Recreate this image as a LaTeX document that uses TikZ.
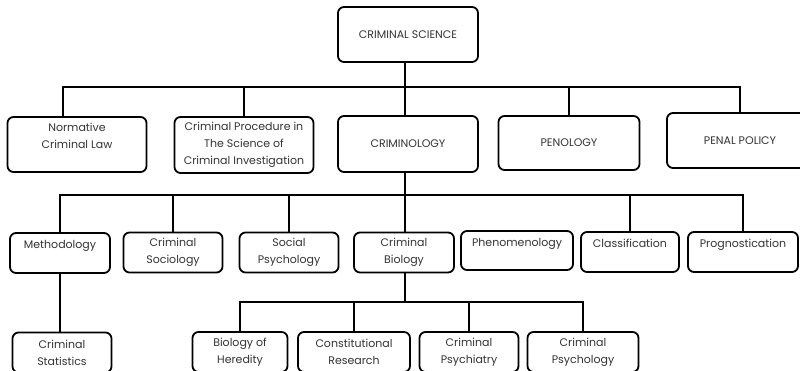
\documentclass[tikz,border=0pt]{standalone}
\usepackage{fontspec}
\setmainfont{Poppins}
\tikzset{
  box/.style={draw, rounded corners=6pt, line width=1.8pt, align=center,
    font=\fontsize{11}{17}\selectfont, text=black!80, inner sep=2pt},
  link/.style={line width=1.8pt}
}
\begin{document}
\begin{tikzpicture}[x=1pt,y=-1pt]
\clip (0,0) rectangle (800,371);

% Draw the root box
\node[box, minimum width=140, minimum height=55] (root) at (408,34.5) {CRIMINAL SCIENCE};

% Draw the first level
\node[box, minimum width=139, minimum height=55] (law) at (77,144.5) {Normative\\Criminal Law\\\mbox{}};
\node[box, minimum width=139, minimum height=56] (proc) at (244,145) {Criminal Procedure in\\The Science of\\Criminal Investigation};
\node[box, minimum width=140, minimum height=56] (crimlogy) at (408,144) {CRIMINOLOGY};
\node[box, minimum width=141, minimum height=54] (penology) at (569,143) {PENOLOGY};
\node[box, minimum width=146, minimum height=55] (policy) at (740,140.5) {PENAL POLICY};

% Draw the second level
\node[box, minimum width=100, minimum height=40] (meth) at (60,253) {Methodology\\\mbox{}};
\node[box, minimum width=99, minimum height=40] (socio) at (173,252.5) {Criminal\\Sociology};
\node[box, minimum width=99, minimum height=40] (socpsy) at (289,252.5) {Social\\Psychology};
\node[box, minimum width=100, minimum height=40] (biology) at (404,252.5) {Criminal\\Biology};
\node[box, minimum width=112, minimum height=39] (phen) at (517,250.5) {Phenomenology\\\mbox{}};
\node[box, minimum width=98, minimum height=40] (classif) at (630,252) {Classification\\\mbox{}};
\node[box, minimum width=110, minimum height=40] (prog) at (743,252) {Prognostication\\\mbox{}};

% Draw the third level
\node[box, minimum width=99, minimum height=40] (stats) at (62,352.5) {Criminal\\Statistics};
\node[box, minimum width=95, minimum height=40] (heredity) at (240,352) {Biology of\\Heredity};
\node[box, minimum width=112, minimum height=40] (constit) at (354,352) {Constitutional\\Research};
\node[box, minimum width=99, minimum height=40] (psychiatry) at (469,352) {Criminal\\Psychiatry};
\node[box, minimum width=111, minimum height=40] (psychology) at (583,352) {Criminal\\Psychology};

% Connect root to the first level
\coordinate (bus1) at (405,87);
\draw[link] (bus1 |- root.south) -- (bus1 |- crimlogy.north);
\draw[link] ([xshift=-14]law.north) |- (policy.north |- bus1) -- (policy.north);
\foreach \n in {proc,penology}
\draw[link] (\n.north) -- (\n.north |- bus1);

% Connect criminology to the second level
\coordinate (bus2) at (405,195);
\draw[link] (bus2 |- crimlogy.south) -- (bus2 |- biology.north);
\draw[link] (meth.north) |- (prog.north |- bus2) -- (prog.north);
\foreach \n in {socio,socpsy,classif}
\draw[link] (\n.north) -- (\n.north |- bus2);

% Connect to the third level
\coordinate (bus3) at (405,302);
\draw[link] (meth.south) -- (meth.south |- stats.north);
\draw[link] (bus3 |- biology.south) -- (bus3);
\draw[link] (heredity.north) |- (psychology.north |- bus3) -- (psychology.north);
\foreach \n in {constit,psychiatry}
\draw[link] (\n.north) -- (\n.north |- bus3);

\end{tikzpicture}
\end{document}
